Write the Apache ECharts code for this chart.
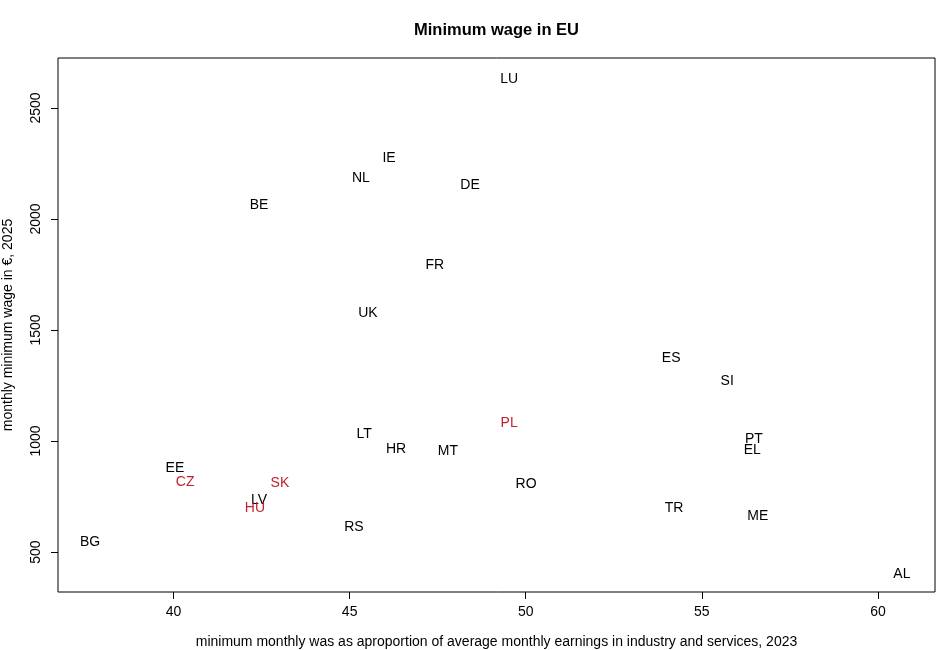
<!DOCTYPE html>
<html><head><meta charset="utf-8">
<script src="https://cdn.jsdelivr.net/npm/echarts@6/dist/echarts.min.js"></script>
<style>html,body{margin:0;padding:0;background:#fff}#c{width:950px;height:650px}</style>
</head><body><div id="c"></div>
<script>
const countries = ['LU','IE','NL','DE','BE','FR','UK','ES','SI','PL','PT','LT','HR','MT','EL','EE','CZ','SK','RO','LV','HU','TR','RS','ME','BG','AL'];
const ratio = [49.53,46.12,45.32,48.42,42.43,47.42,45.52,54.13,55.72,49.53,56.48,45.41,46.32,47.79,56.43,40.04,40.33,43.02,50.01,42.43,42.31,54.21,45.12,56.59,37.63,60.68];
const wage = [2635,2279,2189,2158,2068,1797,1581,1378,1275,1086,1014,1036,968,959,964,883,820,815,811,739,703,703,617,667,550,405];
const highlighted = ['PL','CZ','SK','HU'];
const xTicks = [40,45,50,55,60];
const yTicks = [500,1000,1500,2000,2500];

const font = 'Liberation Sans, Arial, Helvetica, sans-serif';
const data = countries.map((c,i)=>({
  name:c, value:[ratio[i], wage[i]],
  label:{color: highlighted.includes(c) ? '#c4212f' : '#000'}
}));

const chart = echarts.init(document.getElementById('c'), null, {renderer:'canvas'});
chart.setOption({
  animation:false,
  backgroundColor:'#fff',
  title:{text:'Minimum wage in EU', left:409, top:17,
    textStyle:{fontFamily:font, fontSize:16.5, fontWeight:'bold', color:'#000'}},
  grid:{left:58, top:58, width:877, height:534, show:true, borderColor:'#000', borderWidth:1,
    containLabel:false, outerBoundsMode:'none'},
  xAxis:{type:'value', min:36.72, max:61.62,
    name:'minimum monthly was as aproportion of average monthly earnings in industry and services, 2023',
    nameLocation:'middle', nameGap:43,
    nameTextStyle:{fontFamily:font, fontSize:14, color:'#000'},
    splitLine:{show:false}, axisLine:{show:false},
    axisTick:{show:true, length:7, lineStyle:{color:'#000'}, customValues:xTicks},
    axisLabel:{fontFamily:font, fontSize:14, color:'#000', margin:13, customValues:xTicks,
      formatter:v=>String(v)}},
  yAxis:{type:'value', min:320, max:2725,
    name:'monthly minimum wage in €, 2025',
    nameLocation:'middle', nameGap:43, nameRotate:90,
    nameTextStyle:{fontFamily:font, fontSize:14, color:'#000'},
    splitLine:{show:false}, axisLine:{show:false},
    axisTick:{show:true, length:7, lineStyle:{color:'#000'}, customValues:yTicks},
    axisLabel:{fontFamily:font, fontSize:14, color:'#000', rotate:90, margin:22, customValues:yTicks,
      verticalAlign:'middle', align:'center', formatter:v=>String(v)}},
  series:[{type:'scatter', symbolSize:1, itemStyle:{color:'rgba(0,0,0,0)'}, data:data,
    label:{show:true, position:'inside', formatter:'{b}', fontFamily:font, fontSize:14,
      textBorderWidth:0, opacity:1, offset:[0,1]}}]
});
</script></body></html>
